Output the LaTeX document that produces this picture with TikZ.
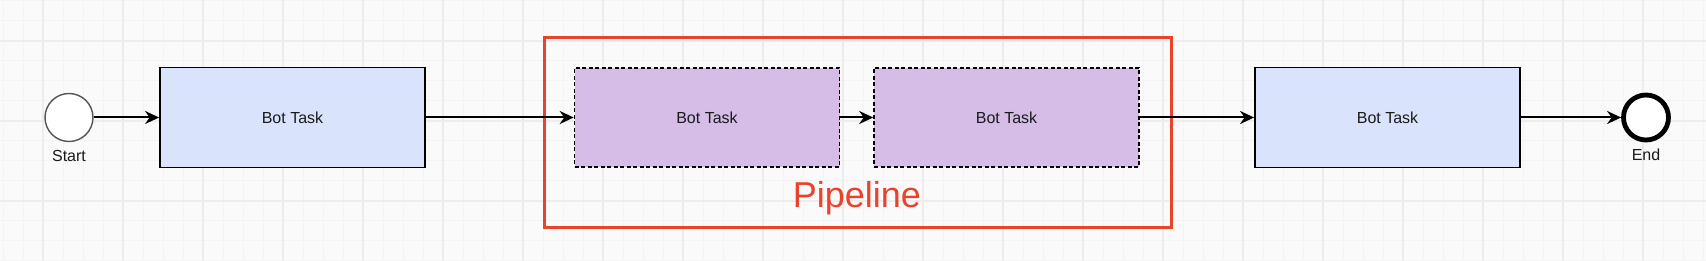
\documentclass[tikz,border=0pt]{standalone}
\usepackage{fontspec}
\setmainfont{Liberation Sans}
\usetikzlibrary{arrows.meta,positioning}
\definecolor{bgc}{HTML}{FAFAFA}
\definecolor{gmajor}{HTML}{EDEDED}
\definecolor{gminor}{HTML}{F4F4F4}
\definecolor{taskblue}{HTML}{D9E4FC}
\definecolor{taskpurple}{HTML}{D5BDE8}
\definecolor{pipered}{HTML}{E9432B}
\definecolor{txt}{HTML}{1A1A1A}
\definecolor{startgray}{HTML}{555555}
\tikzset{
  minorline/.style={gminor, line width=1pt},
  majorline/.style={gmajor, line width=1.5pt},
  taskbox/.style={draw=black, fill=taskblue, line width=1.8pt, minimum width=265pt, minimum height=100pt, inner sep=0pt, font=\fontsize{16pt}{19pt}\selectfont, text=txt},
  pipebox/.style={draw=black, fill=taskpurple, line width=1.6pt, dash pattern=on 4pt off 2.5pt, minimum width=265pt, minimum height=99pt, inner sep=0pt, font=\fontsize{16pt}{19pt}\selectfont, text=txt},
  startev/.style={circle, draw=startgray, fill=white, line width=1.4pt, minimum size=48pt, inner sep=0pt},
  endev/.style={circle, draw=black, fill=white, line width=4.8pt, minimum size=45pt, inner sep=0pt},
  evlabel/.style={font=\fontsize{16pt}{19pt}\selectfont, text=txt, inner sep=0pt},
  flow/.style={draw=black, line width=2pt, -{Stealth[length=14pt, width=13pt, inset=4.5pt]}},
  pipeframe/.style={draw=pipered, line width=3.5pt},
  pipelabel/.style={font=\fontsize{36pt}{43pt}\selectfont, text=pipered, inner sep=0pt}
}
\begin{document}
\begin{tikzpicture}[x=1pt, y=-1pt]
\useasboundingbox (0,0) rectangle (1706,261);
\fill[bgc] (0,0) rectangle (1706,261);
% grid
\foreach \x in {3,23,...,1703} \draw[minorline] (\x,0) -- (\x,261);
\foreach \y in {1,21,...,261} \draw[minorline] (0,\y) -- (1706,\y);
\foreach \x in {43,123,...,1703} \draw[majorline] (\x,0) -- (\x,261);
\foreach \y in {41,121,...,261} \draw[majorline] (0,\y) -- (1706,\y);
% pipeline frame
\node[pipeframe, minimum width=627pt, minimum height=190pt, inner sep=0pt] (pipe) at (858,132.5) {};
\node[pipelabel] (plabel) at (857,198) {Pipeline};
% nodes
\node[startev] (start) at (69,117.5) {};
\node[evlabel] (startl) at (69,156) {Start};
\node[taskbox] (t1) at (292.5,117.5) {Bot Task};
\node[pipebox] (p1) at (707,117.5) {Bot Task};
\node[pipebox] (p2) at (1006.5,117.5) {Bot Task};
\node[taskbox] (t4) at (1387.5,117.5) {Bot Task};
\node[endev] (end) at (1646,117.5) {};
\node[evlabel] (endl) at (1646,155) {End};
% flows
\draw[flow] (start) -- (t1);
\draw[flow] (t1) -- (p1);
\draw[flow] (p1) -- (p2);
\draw[flow] (p2) -- (t4);
\draw[flow] (t4) -- (end);
\end{tikzpicture}
\end{document}
